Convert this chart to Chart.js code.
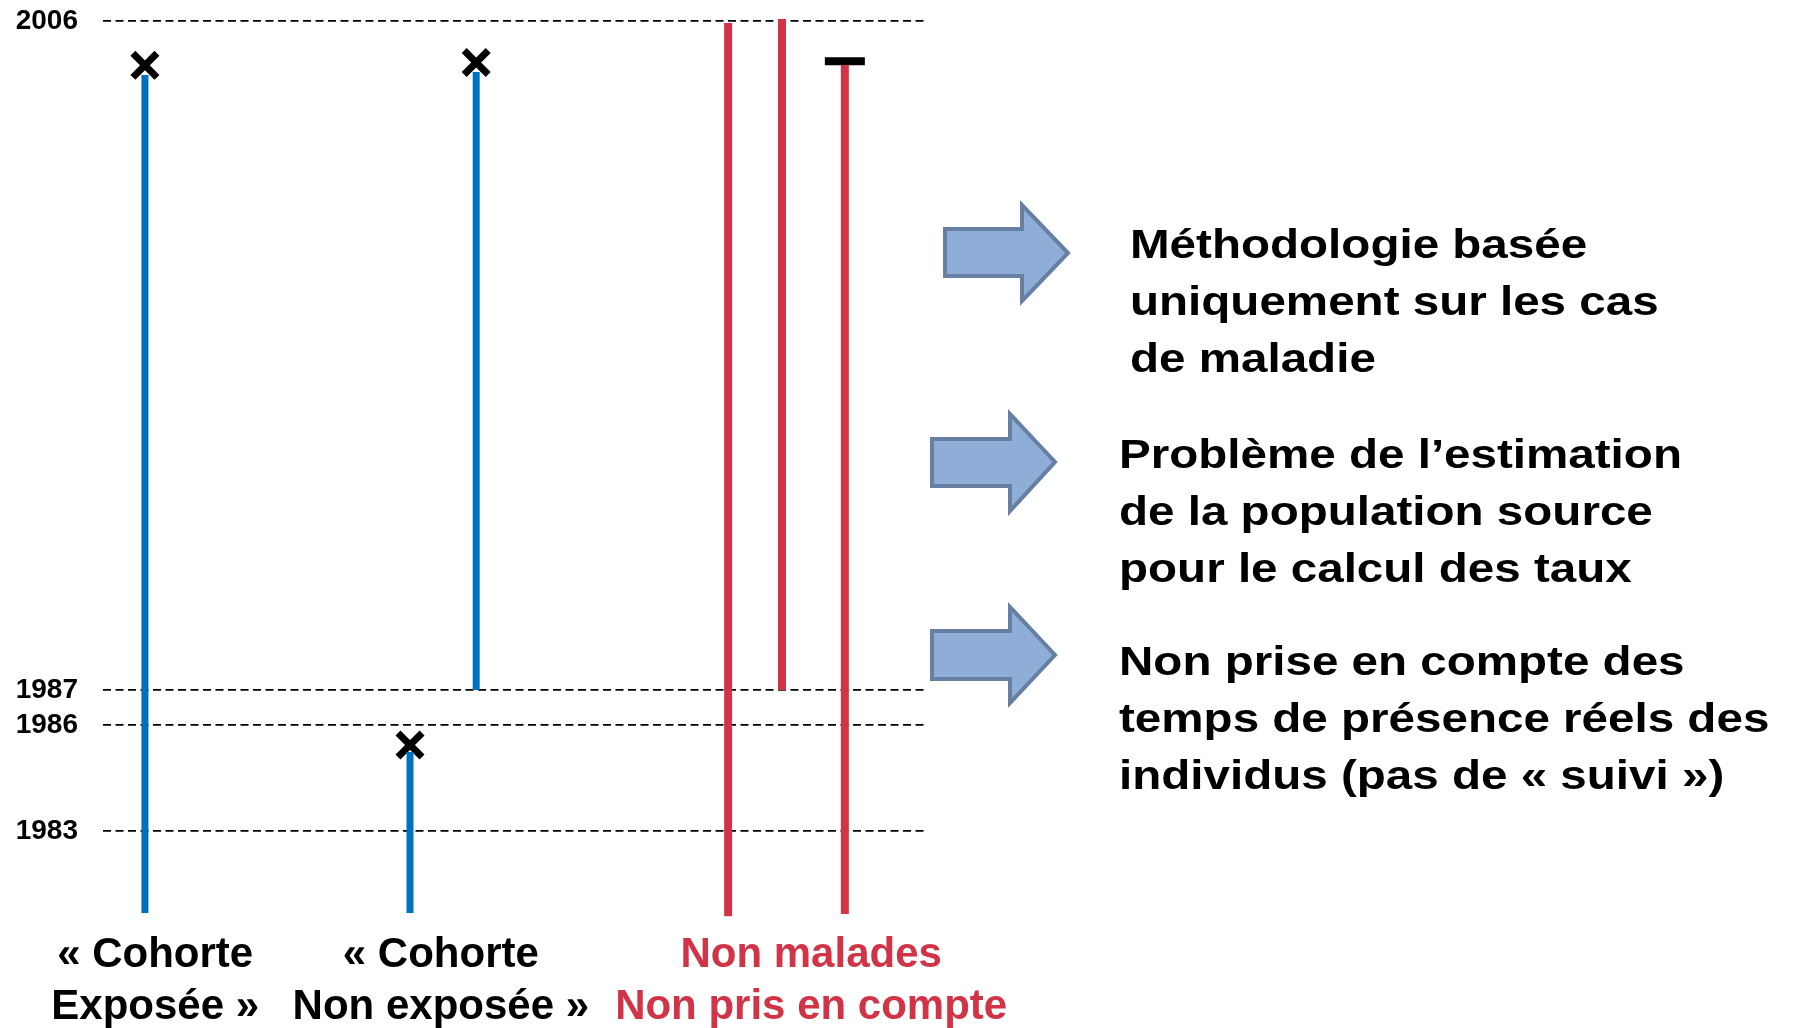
<!DOCTYPE html>
<html lang="fr">
<head>
<meta charset="utf-8">
<title>Cohortes - suivi 1983-2006</title>
<script src="https://cdn.jsdelivr.net/npm/chart.js@4/dist/chart.umd.min.js"></script>
<style>
        html, body { margin: 0; padding: 0; background: #ffffff; }
        #page { position: relative; width: 1793px; height: 1028px; overflow: hidden; }
        #chart { position: absolute; left: 0; top: 0; }
        #arrows { position: absolute; left: 0; top: 0; }
        .note
        {
                position: absolute;
                font-family: "Liberation Sans", Arial, sans-serif;
                font-weight: bold;
                font-size: 41px;
                line-height: 57px;
                color: #000000;
                white-space: nowrap;
                transform: scaleX(1.16);
                transform-origin: 0 0;
        }
</style>
</head>
<body>
<div id="page">
        <canvas id="chart" width="1793" height="1028"></canvas>
        <svg id="arrows" width="1793" height="1028">
                <g fill="#8EAED8" stroke="#667FA3" stroke-width="4" stroke-linejoin="miter">
                        <path d="M945,229 L1022,229 L1022,205 L1068,253 L1022,301 L1022,276 L945,276 Z"/>
                        <path d="M932,439 L1010,439 L1010,414 L1055,462 L1010,511 L1010,486 L932,486 Z"/>
                        <path d="M932,631 L1010,631 L1010,607 L1055,655 L1010,703 L1010,679 L932,679 Z"/>
                </g>
        </svg>
        <div class="note" style="left:1130px; top:216px">Méthodologie basée<br>uniquement sur les cas<br>de maladie</div>
        <div class="note" style="left:1119px; top:426px">Problème de l’estimation<br>de la population source<br>pour le calcul des taux</div>
        <div class="note" style="left:1119px; top:633px">Non prise en compte des<br>temps de présence réels des<br>individus (pas de « suivi »)</div>
</div>
<script>
var yearTicks = [1983, 1986, 1987, 2006];

var groupLabels = [["« Cohorte", "Exposée »"], ["« Cohorte", "Non exposée »"], ["Non malades", "Non pris en compte"]];
var groupPos = [1.27, 8.22, 17.23];
var groupTextColors = ["#000000", "#000000", "#D13447"];
var groupLineColors = ["#0070C0", "#0070C0", "#D13447"];

// one vertical segment per person: position, start year, end year, group
var segX = [1.02, 7.47, 9.08, 15.21, 16.52, 18.05];
var segStart = [1980.67, 1980.67, 1987, 1980.58, 1987, 1980.64];
var segEnd = [2004.47, 1985.24, 2004.55, 2005.94, 2006.06, 2004.75];
var segGroup = [0, 1, 1, 2, 2, 2];

// cases (x) and exit without disease (bar)
var caseX = [1.02, 7.47, 9.08];
var caseY = [2004.74, 1985.44, 2004.82];
var exitX = [18.05];
var exitY = [2004.86];

function toPoints(xs, ys)
{
        var pts = [];
        for(var i = 0; i < xs.length; i++)
                pts.push({ x: xs[i], y: ys[i] });
        return pts;
}

var datasets = [];
for(var i = 0; i < segX.length; i++)
{
        datasets.push({
                data: [{ x: segX[i], y: segStart[i] }, { x: segX[i], y: segEnd[i] }],
                showLine: true,
                borderColor: groupLineColors[segGroup[i]],
                borderWidth: segGroup[i] === 2 ? 8 : 7,
                borderCapStyle: "butt",
                pointRadius: 0,
                pointHoverRadius: 0,
                clip: false
        });
}

datasets.push({
        data: toPoints(caseX, caseY),
        pointStyle: "crossRot",
        pointRadius: 17,
        pointHoverRadius: 17,
        pointBorderWidth: 7,
        pointBorderColor: "#000000",
        pointBackgroundColor: "#000000",
        clip: false
});

datasets.push({
        data: toPoints(exitX, exitY),
        pointStyle: "line",
        pointRadius: 20,
        pointHoverRadius: 20,
        pointBorderWidth: 8,
        pointBorderColor: "#000000",
        clip: false
});

Chart.defaults.font.family = "'Liberation Sans', Arial, sans-serif";

new Chart(document.getElementById("chart").getContext("2d"), {
        type: "scatter",
        data: { datasets: datasets },
        options: {
                responsive: false,
                animation: false,
                events: [],
                layout: { autoPadding: false, padding: { top: 21, right: 868, bottom: 0, left: 0 } },
                plugins: { legend: { display: false }, tooltip: { enabled: false } },
                scales: {
                        x: {
                                type: "linear",
                                min: 0,
                                max: 20,
                                grid: { display: false, drawTicks: false },
                                border: { display: false },
                                afterBuildTicks: function(scale)
                                {
                                        scale.ticks = groupPos.map(function(v) { return { value: v }; });
                                },
                                afterFit: function(scale)
                                {
                                        scale.height = 102;
                                },
                                ticks: {
                                        padding: 3,
                                        autoSkip: false,
                                        maxRotation: 0,
                                        minRotation: 0,
                                        color: function(ctx) { return groupTextColors[ctx.index]; },
                                        font: { size: 42, weight: "bold", lineHeight: 1.25 },
                                        callback: function(value, index) { return groupLabels[index]; }
                                }
                        },
                        y: {
                                type: "linear",
                                min: 1980.3,
                                max: 2006,
                                z: 1,
                                grid: { color: "#000000", lineWidth: 1.8, drawTicks: false },
                                border: { display: false, dash: [8, 4.5] },
                                afterBuildTicks: function(scale)
                                {
                                        scale.ticks = yearTicks.map(function(v) { return { value: v }; });
                                },
                                afterFit: function(scale)
                                {
                                        // fixed axis width, no extra room asked above/below the plot
                                        scale.width = 103;
                                        scale.paddingTop = 0;
                                        scale.paddingBottom = 0;
                                },
                                ticks: {
                                        padding: 25,
                                        color: "#000000",
                                        font: { size: 28, weight: "bold" },
                                        callback: function(value) { return String(value); }
                                }
                        }
                }
        }
});
</script>
</body>
</html>
